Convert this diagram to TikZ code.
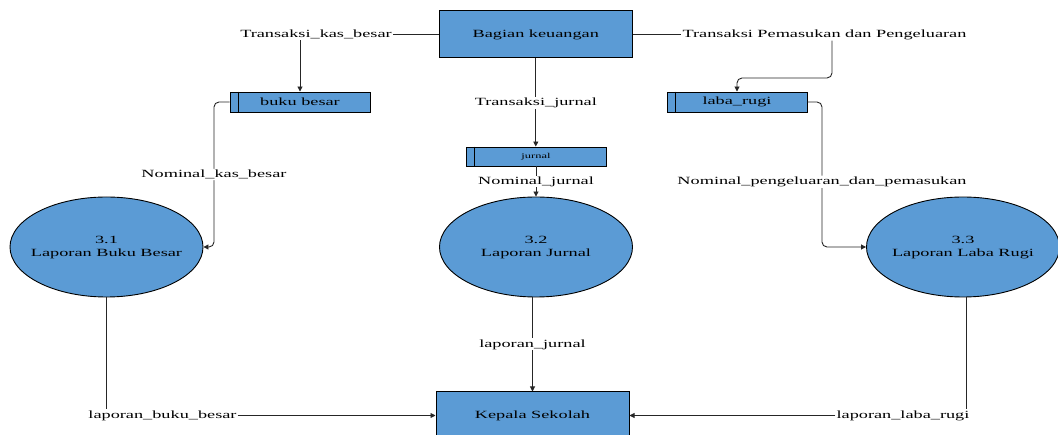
\documentclass[tikz,border=0pt]{standalone}
\usepackage{fontspec}
\setmainfont{Liberation Serif}
\usetikzlibrary{shapes.geometric,arrows.meta}
\definecolor{dfd}{RGB}{91,155,213}
\newcommand{\wt}[1]{\scalebox{1.66}[1]{#1}}
\newcommand{\etxt}[2]{\makebox[0pt]{\wt{\begin{tabular}{@{}c@{}}#1\\#2\end{tabular}}}}
\begin{document}
\begin{tikzpicture}[x=1pt,y=-1pt,
  ln/.style={draw=black!85, line width=0.9pt},
  arr/.style={ln, -{Triangle[length=5pt,width=5pt]}},
  ent/.style={rectangle, draw=black, line width=1pt, fill=dfd, inner sep=0pt,
    minimum width=193pt, minimum height=47pt, font=\fontsize{11}{13}\selectfont},
  proc/.style={ellipse, draw=black, line width=0.9pt, fill=dfd, inner sep=0pt,
    minimum width=193pt, minimum height=100pt, font=\fontsize{11}{13}\selectfont},
  store/.style={rectangle, draw=black, line width=0.9pt, fill=dfd, minimum width=140pt,
    minimum height=20pt, inner sep=0pt, font=\fontsize{11}{13}\selectfont},
  lbl/.style={fill=white, inner sep=1pt, font=\fontsize{11}{13}\selectfont}]

\useasboundingbox (0,0) rectangle (1058,435);

% entities
\node[ent] (bk) at (535.8,34.5) {\wt{Bagian keuangan}};
\node[ent] (ks) at (532.5,415.5) {\wt{Kepala Sekolah}};

% processes
\node[proc] (e1) at (106.5,247) {\etxt{3.1}{Laporan Buku Besar}};
\node[proc] (e2) at (536,247) {\etxt{3.2}{Laporan Jurnal}};
\node[proc] (e3) at (963,247) {\etxt{3.3}{Laporan Laba Rugi}};

% data stores
\node[store] (bb) at (300,102) {\wt{buku besar}};
\node[store, minimum height=19pt, font=\fontsize{7.5}{9}\selectfont] (jr) at (536,156.5) {\wt{jurnal}};
\node[store] (lr) at (737,102) {\wt{laba\_rugi}};
\foreach \s in {bb,jr,lr}
  \draw[line width=0.9pt] ([xshift=9pt]\s.north west) -- ([xshift=9pt]\s.south west);

% labels
\node[lbl] (tks) at (316,34.5) {\wt{Transaksi\_kas\_besar}};
\node[lbl] (tpp) at (824.5,34.5) {\wt{Transaksi Pemasukan dan Pengeluaran}};
\node[lbl] (lbb) at (162.5,415.5) {\wt{laporan\_buku\_besar}};
\node[lbl] (llr) at (903,415.5) {\wt{laporan\_laba\_rugi}};

% connectors top
\draw[ln] (bk.west) -- (bk.west -| tks.east);
\draw[arr] (tks.south -| bb.north) -- (bb.north);
\draw[ln] (bk.east) -- (bk.east -| tpp.west);
\coordinate (c1) at ([xshift=7.5pt]tpp.south);
\draw[arr, rounded corners=5pt] (c1) -- (c1 |- 0,78) -| (lr.north);
\draw[arr] (bk.south) -- node[lbl] {\wt{Transaksi\_jurnal}} (bk.south |- jr.north);

% stores to processes
\draw[arr, rounded corners=5pt] (bb.west) -- (214,102) -- node[lbl] {\wt{Nominal\_kas\_besar}} (214,247) -- (e1.east);
\draw[arr] (jr.south) -- node[lbl, pos=0.5] {\wt{Nominal\_jurnal}} (e2.north);
\draw[arr, rounded corners=5pt] (lr.east) -- (822,102) -- node[lbl, pos=0.55] {\wt{Nominal\_pengeluaran\_dan\_pemasukan}} (822,247) -- (e3.west);

% processes to Kepala Sekolah
\draw[arr] (ks.north |- e2.south) -- node[lbl, pos=0.5] {\wt{laporan\_jurnal}} (ks.north);
\draw[ln] (e1.south) -- (e1.south |- lbb.north);
\draw[arr] (lbb.east) -- (lbb.east -| ks.west);
\draw[ln] ([xshift=3pt]e3.south) -- ([xshift=3pt]e3.south |- llr.north);
\draw[arr] (llr.west) -- (llr.west -| ks.east);
\end{tikzpicture}
\end{document}
